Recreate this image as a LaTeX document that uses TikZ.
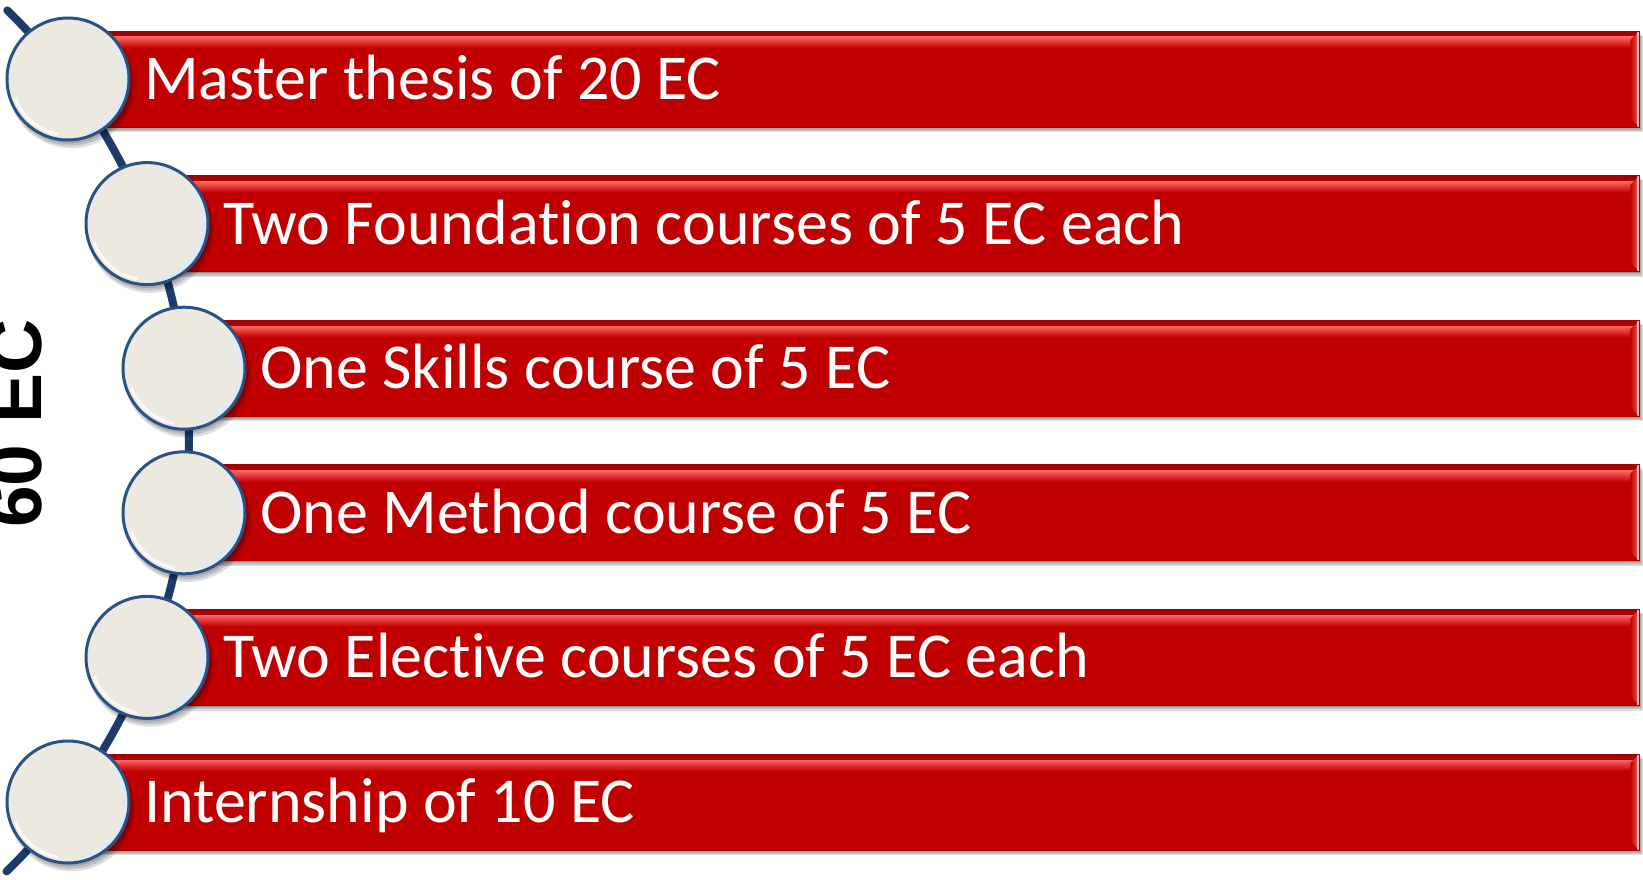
\documentclass[tikz,border=0pt]{standalone}
\usepackage{fontspec}
\setmainfont[Ligatures=NoCommon]{Carlito}
\newfontfamily\ecfont{Liberation Sans}
\definecolor{barred}{HTML}{C00000}
\definecolor{barhi}{HTML}{FF6262}
\definecolor{bardark}{HTML}{A00000}
\definecolor{navy}{HTML}{1C3B68}
\definecolor{circfill}{HTML}{ECEAE0}
\definecolor{circedge}{HTML}{2B5286}
\definecolor{circhi}{HTML}{DDEBFA}
\begin{document}
\begin{tikzpicture}[x=1pt,y=-1pt,
  bar/.style={rectangle, inner sep=0pt, anchor=west, minimum height=96pt,
    fill=barred, draw=bardark, line width=0.8pt,
    path picture={
      \shade[top color=bardark, bottom color=barhi]
        ([yshift=-1pt]path picture bounding box.north west) rectangle
        ([yshift=-6pt]path picture bounding box.north east);
      \shade[top color=barhi, bottom color=barred]
        ([yshift=-6pt]path picture bounding box.north west) rectangle
        ([yshift=-17pt]path picture bounding box.north east);
      \shade[left color=barred, right color=barhi]
        (path picture bounding box.north east) --
        ([xshift=-9pt,yshift=-9pt]path picture bounding box.north east) --
        ([xshift=-9pt,yshift=9pt]path picture bounding box.south east) --
        (path picture bounding box.south east) -- cycle;
      \fill[white, opacity=0.6]
        ([xshift=-2.5pt]path picture bounding box.north east) rectangle
        (path picture bounding box.south east);
    }},
  barshadow/.style={fill=black, opacity=0.12},
  circ/.style={circle, inner sep=0pt, minimum size=122pt, fill=circfill,
    draw=circedge, line width=3pt,
    path picture={
      \draw[circhi, line width=4pt, opacity=0.9]
        ($(path picture bounding box.center)+(-70:57pt)$)
        arc[start angle=-70, end angle=35, radius=57pt];
      \draw[white, line width=3pt, opacity=0.8]
        ($(path picture bounding box.center)+(-160:56pt)$)
        arc[start angle=-160, end angle=-100, radius=56pt];
    }},
  circshadow/.style={fill=black, opacity=0.13},
  lbl/.style={anchor=base west, inner sep=0pt, text=white,
    font=\fontsize{64}{64}\selectfont},
  total/.style={rotate=90, anchor=base, inner sep=0pt,
    font=\ecfont\bfseries\fontsize{75}{75}\selectfont}
]
\usetikzlibrary{calc}
\useasboundingbox (0,0) rectangle (1643,880);
\clip (0,0) rectangle (1643,880);
\fill[white] (0,0) rectangle (1643,880);

% spine arc
\coordinate (arctop) at ({-411+600*cos(-45.8)},{440.5+600*sin(-45.8)});
\coordinate (arcbot) at ({-411+600*cos(45.9)},{440.5+600*sin(45.9)});
\draw[navy, line width=8pt, line cap=round]
  plot[domain=-45.8:45.9, samples=150, smooth]
  ({-411+600*cos(\x)},{440.5+600*sin(\x)});

% bars, labels and circles
\foreach \i/\cx/\cy/\txt in {
  1/68/79/{Master thesis of 20 EC},
  2/147/223.6/{Two Foundation courses of 5 EC each},
  3/184/368.2/{One Skills course of 5 EC},
  4/184/512.8/{One Method course of 5 EC},
  5/147/657.4/{Two Elective courses of 5 EC each},
  6/68/802/{Internship of 10 EC}}{
  \foreach \s in {1,2,3,4}{
    \fill[barshadow] (\cx+\s*0.6,\cy-48+\s*1.2) rectangle (1639+\s*0.9,\cy+48+\s*1.3);
  }
  \node[bar, minimum width={1639-\cx}] (b\i) at (\cx,\cy) {};
  \node[lbl] (t\i) at (\cx+76,\cy+20.5) {\txt};
  \foreach \s in {1,2,3}{
    \fill[circshadow] (\cx+1+\s*0.8,\cy+2+\s*1.2) circle[radius=60+\s*1.2];
  }
  \node[circ] (c\i) at (\cx,\cy) {};
}

\node[total] (ec) at (41,423.5) {60 EC};
\end{tikzpicture}
\end{document}
